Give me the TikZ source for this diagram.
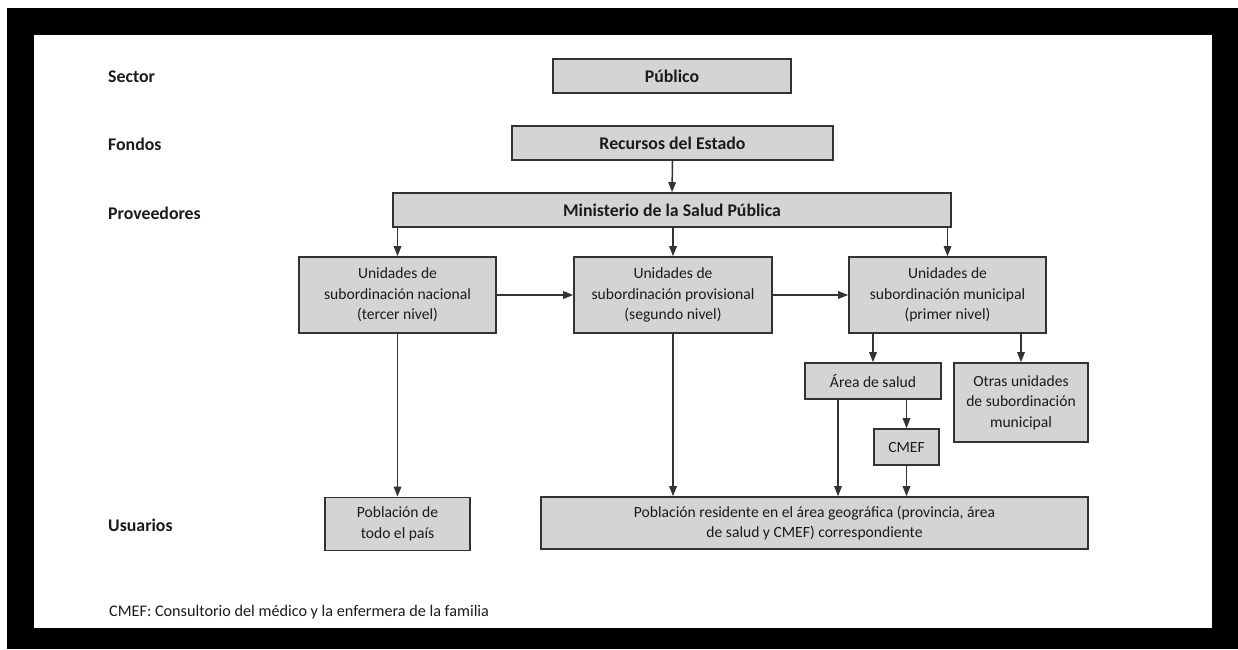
\documentclass[tikz,border=0pt]{standalone}
\usepackage{fontspec}
\setmainfont{Carlito}
\usetikzlibrary{arrows.meta}
\definecolor{boxgray}{HTML}{D3D4D6}
\definecolor{linegray}{HTML}{333333}
\definecolor{ink}{HTML}{1E1A1B}

\begin{document}
\begin{tikzpicture}[x=1pt,y=-1pt,
  box/.style={draw=linegray,line width=1.6pt,fill=boxgray,text=ink,inner sep=0pt,align=center,
    font=\fontsize{15.6}{20.5}\selectfont},
  bbox/.style={box,font=\fontsize{17.8}{21}\selectfont\bfseries},
  rowlab/.style={anchor=west,text=ink,inner sep=0pt,font=\fontsize{17.8}{21}\selectfont\bfseries},
  arr/.style={draw=linegray,line width=1.5pt,-{Triangle[length=10pt,width=7.5pt]}}]

% frame
\fill[white] (0,0) rectangle (1238,649);
\fill[black] (7,8) rectangle (1238,649);
\fill[white] (34,35) rectangle (1212,628);

\node[rowlab] (sector) at (108,77) {Sector};
\node[rowlab] (fondos) at (108,144) {Fondos};
\node[rowlab] (prov-lab) at (108,213) {Proveedores};
\node[rowlab] (usuarios) at (108,525) {Usuarios};

\node[bbox,minimum width=238pt,minimum height=34pt] (pub) at (672,76) {Público};
\node[bbox,minimum width=321pt,minimum height=34pt] (rec) at (672.5,143) {Recursos del Estado};
\node[bbox,minimum width=558pt,minimum height=34pt] (min) at (672,210) {Ministerio de la Salud Pública};

\node[box,minimum width=197pt,minimum height=76pt] (nac) at (397.5,295) {Unidades de\\subordinación nacional\\(tercer nivel)};
\node[box,minimum width=198pt,minimum height=76pt] (prov) at (673,295) {Unidades de\\subordinación provisional\\(segundo nivel)};
\node[box,minimum width=197pt,minimum height=76pt] (mun) at (947.5,295) {Unidades de\\subordinación municipal\\(primer nivel)};

\node[box,minimum width=136pt,minimum height=36pt] (area) at (873,381) {Área de salud};
\node[box,minimum width=134pt,minimum height=79pt] (otras) at (1021,402.5) {Otras unidades\\de subordinación\\municipal};
\node[box,minimum width=65pt,minimum height=36pt] (cmef) at (906.5,447) {CMEF};

\node[box,minimum width=145pt,minimum height=53pt] (pobpais) at (397.5,524) {Población de\\todo el país};
\node[box,minimum width=547pt,minimum height=52pt] (pobres) at (814.5,523) {Población residente en el área geográfica (provincia, área\\de salud y CMEF) correspondiente};

\node[anchor=west,text=ink,inner sep=0pt,font=\fontsize{16.2}{19}\selectfont] (nota) at (109,612)
  {CMEF: Consultorio del médico y la enfermera de la familia};

% arrows
\draw[arr] (rec.south) -- (min.north);
\draw[arr] (min.south -| nac.north) -- (nac.north);
\draw[arr] (min.south -| prov.north) -- (prov.north);
\draw[arr] (min.south -| mun.north) -- (mun.north);
\draw[arr] (nac.east) -- (prov.west);
\draw[arr] (prov.east) -- (mun.west);
\draw[arr] (nac.south) -- (pobpais.north);
\draw[arr] (prov.south) -- (prov.south |- pobres.north);
\draw[arr] (mun.south -| area.north) -- (area.north);
\draw[arr] (mun.south -| otras.north) -- (otras.north);
\draw[arr] (area.south -| cmef.north) -- (cmef.north);
\draw[arr] ([xshift=-35pt]area.south) -- ([xshift=-35pt]area.south |- pobres.north);
\draw[arr] (cmef.south) -- (cmef.south |- pobres.north);

\end{tikzpicture}
\end{document}
